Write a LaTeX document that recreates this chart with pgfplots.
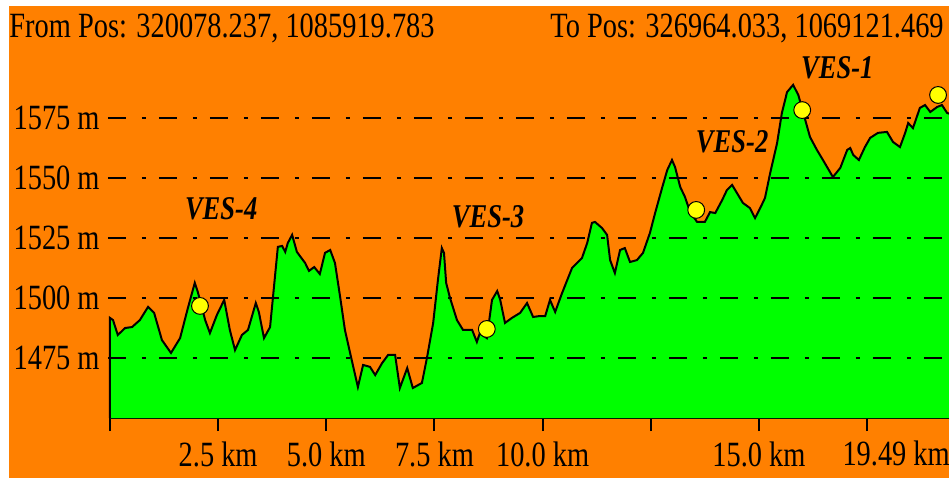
\documentclass[border=0pt]{standalone}
\usepackage{pgfplots}
\pgfplotsset{compat=1.18}
\usepackage{pgfplotstable}
\usepackage{fontspec}
\setmainfont{Liberation Serif}
\newfontfamily\lab[FakeStretch=0.8]{Liberation Serif}
\definecolor{bgorange}{HTML}{FF8000}
\definecolor{land}{HTML}{00FF00}
\definecolor{ves}{HTML}{FFFF00}

% elevation profile, km along the line vs metres
\pgfplotstableread{
km elev
0 1450
0 1491.7
0.07 1490.8
0.18 1484.6
0.35 1487.5
0.51 1487.9
0.69 1490.8
0.88 1496.3
1.02 1493.8
1.20 1482.5
1.41 1477.1
1.62 1483.3
1.80 1495.8
1.96 1506.3
2.03 1502.5
2.20 1490.8
2.31 1485.4
2.47 1492.9
2.64 1499.2
2.77 1486.7
2.89 1478.3
3.05 1484.6
3.19 1486.7
3.37 1497.9
3.44 1494.2
3.56 1483.3
3.70 1487.9
3.79 1504.6
3.88 1521.3
3.98 1521.7
4.05 1519.2
4.11 1522.9
4.21 1526.3
4.32 1519.2
4.51 1514.6
4.60 1511.3
4.72 1512.9
4.85 1510.0
4.97 1518.8
5.09 1520.0
5.20 1514.6
5.32 1500.4
5.43 1486.7
5.55 1477.1
5.73 1462.9
5.85 1472.1
6.01 1471.3
6.13 1467.9
6.29 1472.9
6.43 1476.3
6.59 1476.3
6.70 1462.5
6.87 1470.8
7.00 1462.5
7.21 1464.6
7.33 1475.4
7.47 1489.6
7.58 1507.5
7.67 1520.8
7.72 1518.8
7.77 1506.3
7.86 1500.0
8.02 1490.8
8.16 1486.7
8.37 1486.7
8.48 1481.7
8.55 1485.4
8.71 1483.3
8.83 1499.2
8.95 1502.9
9.02 1499.2
9.13 1489.6
9.29 1491.7
9.48 1493.8
9.64 1497.9
9.78 1492.1
9.94 1492.5
10.06 1492.5
10.17 1499.2
10.29 1494.2
10.45 1502.1
10.68 1512.5
10.91 1516.7
11.03 1522.9
11.14 1531.3
11.21 1531.7
11.37 1529.2
11.49 1526.3
11.56 1515.8
11.67 1510.4
11.79 1520.0
11.90 1520.8
12.02 1515.0
12.18 1515.8
12.32 1518.8
12.48 1527.1
12.60 1535.4
12.76 1545.8
12.88 1553.3
12.99 1557.5
13.06 1554.6
13.18 1546.3
13.29 1542.1
13.41 1535.8
13.57 1531.7
13.75 1531.7
13.87 1535.8
13.99 1535.4
14.15 1540.8
14.26 1545.0
14.38 1547.1
14.49 1543.8
14.63 1539.6
14.79 1537.5
14.91 1533.3
15.03 1537.5
15.14 1541.7
15.26 1552.1
15.42 1564.6
15.53 1577.1
15.65 1585.8
15.79 1588.8
15.91 1584.6
16.07 1574.2
16.18 1567.1
16.34 1561.7
16.48 1557.5
16.71 1550.4
16.88 1554.2
17.04 1561.7
17.11 1562.5
17.18 1559.6
17.31 1557.5
17.45 1562.9
17.57 1566.7
17.75 1568.8
17.96 1569.2
18.10 1565.0
18.26 1562.9
18.38 1568.8
18.45 1572.9
18.56 1570.8
18.72 1579.2
18.84 1580.4
18.96 1577.5
19.12 1579.6
19.23 1580.4
19.35 1577.1
19.49 1576.3
19.49 1450
}\profile

\tikzset{
  dashdot/.style={black, line width=1.2pt,
    dash pattern=on 9pt off 8pt on 2pt off 6.5pt},
  txt/.style={font=\lab\fontsize{17.75}{20}\selectfont, inner sep=0pt},
  vestxt/.style={font=\lab\bfseries\itshape\fontsize{16.6}{18}\selectfont, inner sep=0pt},
}

\begin{document}
\begin{tikzpicture}
\useasboundingbox (0,0) rectangle (474.5pt,239pt);
\fill[white] (0,0) rectangle (474.5pt,239pt);
\fill[bgorange] (4.5pt,0) rectangle (474.5pt,236pt);
\begin{scope}
\clip (0,0) rectangle (474.5pt,239pt);

\begin{axis}[
    at={(55pt,30pt)}, anchor=south west,
    scale only axis,
    width=421.6pt, height=204pt,
    xmin=0, xmax=19.49,
    ymin=1450, ymax=1620,
    clip=false,
    separate axis lines,
    axis x line*=bottom,
    axis y line*=left,
    x axis line style={-, line width=1.2pt},
    y axis line style={draw=none},
    xtick={0,2.5,5,7.5,10,12.5,15,17.5},
    xticklabels={,2.5 km,5.0 km,7.5 km,10.0 km,,15.0 km,},
    ytick={1475,1500,1525,1550,1575},
    yticklabels={1475 m,1500 m,1525 m,1550 m,1575 m},
    tick align=outside,
    major tick length=6.5pt,
    x tick style={black, line width=1pt},
    y tick style={draw=none},
    tick label style={font=\lab\fontsize{17.75}{20}\selectfont, inner sep=0pt},
    xticklabel style={anchor=base, yshift=-17.5pt},
    yticklabel style={anchor=east, xshift=1.5pt},
]
\addplot[fill=land, draw=none] table {\profile};

\draw[dashdot] (axis cs:-0.05,1475) -- (axis cs:19.6,1475);
\draw[dashdot] (axis cs:-0.05,1500) -- (axis cs:19.6,1500);
\draw[dashdot] (axis cs:-0.05,1525) -- (axis cs:19.6,1525);
\draw[dashdot] (axis cs:-0.05,1550) -- (axis cs:19.6,1550);
\draw[dashdot] (axis cs:-0.05,1575) -- (axis cs:19.6,1575);

\addplot[black, line width=1pt] table {\profile};

\addplot[only marks, mark=*, mark size=4.2pt,
    mark options={fill=ves, draw=black, line width=0.5pt}] coordinates {
    (2.08,1496.7) (8.71,1487.1) (13.55,1536.7) (16.00,1578.3) (19.14,1584.6)
};

\node[vestxt] at (axis cs:2.57,1537.1) {VES-4};
\node[vestxt] at (axis cs:8.74,1533.8) {VES-3};
\node[vestxt] at (axis cs:14.38,1565.0) {VES-2};
\node[vestxt] at (axis cs:16.81,1595.8) {VES-1};

\node[txt, anchor=base east, yshift=-23.5pt, xshift=-1.5pt] at (axis cs:19.49,1450) {19.49 km};
\end{axis}

\node[txt, anchor=base west] at (4.5pt,220.5pt) {From Pos: 320078.237, 1085919.783};
\node[txt, anchor=base west] at (275pt,220.5pt) {To Pos: 326964.033, 1069121.469};
\end{scope}
\end{tikzpicture}
\end{document}
